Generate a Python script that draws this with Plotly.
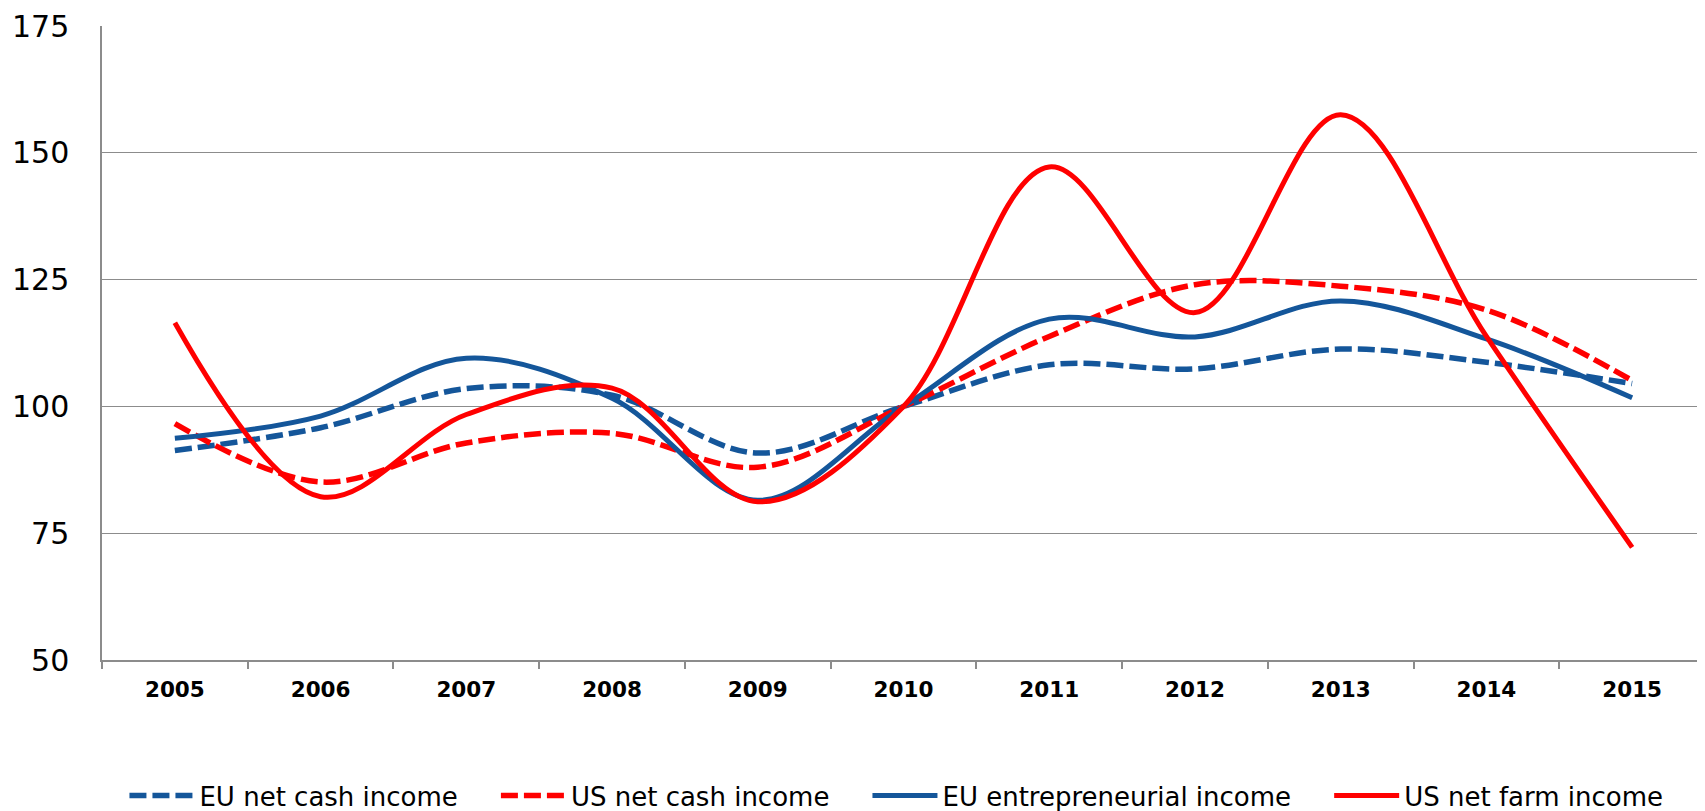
"""EU vs US farm income indices, 2005-2015"""

import plotly.graph_objects as go

years = ["2005", "2006", "2007", "2008", "2009", "2010",
         "2011", "2012", "2013", "2014", "2015"]

eu_net_cash = [91.3, 95.8, 103.5, 102.2, 90.8, 100.0, 108.2, 107.4, 111.3, 108.7, 104.5]
us_net_cash = [96.6, 85.1, 92.8, 94.7, 88.0, 100.0, 113.8, 124.0, 123.7, 119.0, 105.1]
eu_entrepreneurial = [93.7, 98.1, 109.5, 101.6, 81.5, 100.0, 117.2, 113.7, 120.8, 113.3, 101.7]
us_net_farm = [116.5, 82.2, 98.4, 103.6, 81.2, 100.0, 147.2, 118.5, 157.5, 113.8, 72.2]

color_scheme = {"blue": "#14569A", "red": "#FF0000", "grid": "#8C8C8C", "text": "#000000"}
font_family = "Verdana, DejaVu Sans, sans-serif"
pad = "\u00a0" * 4  # keeps legend entries apart like the original

series = [
    ("EU net cash income", eu_net_cash, color_scheme["blue"], "17px,6px", 5.5),
    ("US net cash income", us_net_cash, color_scheme["red"], "17px,6px", 5.5),
    ("EU entrepreneurial income", eu_entrepreneurial, color_scheme["blue"], "solid", 5),
    ("US net farm income", us_net_farm, color_scheme["red"], "solid", 5),
]

figure = go.Figure()
for name, values, color, dash, width in series:
    figure.add_trace(go.Scatter(
        x=years,
        y=values,
        name=name + pad,
        mode="lines",
        line={"color": color, "width": width, "dash": dash, "shape": "spline", "smoothing": 1.0},
    ))

# the page body adds an 8px offset, so the figure is 8px smaller than the window
plot_layout = {
    "width": 1697,
    "height": 803,
    "margin": {"l": 94, "r": 0, "t": 18, "b": 151, "autoexpand": False},
    "paper_bgcolor": "white",
    "plot_bgcolor": "white",
    "font": {"family": font_family, "color": color_scheme["text"]},
    "xaxis": {
        "type": "category",
        "range": [-0.5, 10.5],
        "showgrid": False,
        "showline": True,
        "linecolor": color_scheme["grid"],
        "linewidth": 1.5,
        "ticks": "outside",
        "tickson": "boundaries",
        "ticklen": 7,
        "tickcolor": color_scheme["grid"],
        "tickwidth": 1.5,
        "tickfont": {"size": 21.5, "weight": "bold"},
        "ticklabelstandoff": 9,
    },
    "yaxis": {
        "range": [50, 175],
        "dtick": 25,
        "tick0": 50,
        "showgrid": True,
        "gridcolor": color_scheme["grid"],
        "gridwidth": 1.3,
        "showline": True,
        "linecolor": color_scheme["grid"],
        "linewidth": 1.5,
        "ticks": "",
        "zeroline": False,
        "tickfont": {"size": 30},
        "ticklabelstandoff": 25,
        "ticklabeloverflow": "allow",
    },
    "showlegend": True,
    "legend": {
        "orientation": "h",
        "x": 0.014,
        "xanchor": "left",
        "y": -0.214,
        "yanchor": "middle",
        "font": {"size": 26},
        "itemwidth": 65,
        "traceorder": "normal",
    },
}

figure.update_layout(plot_layout)
figure.write_html("out.html")
